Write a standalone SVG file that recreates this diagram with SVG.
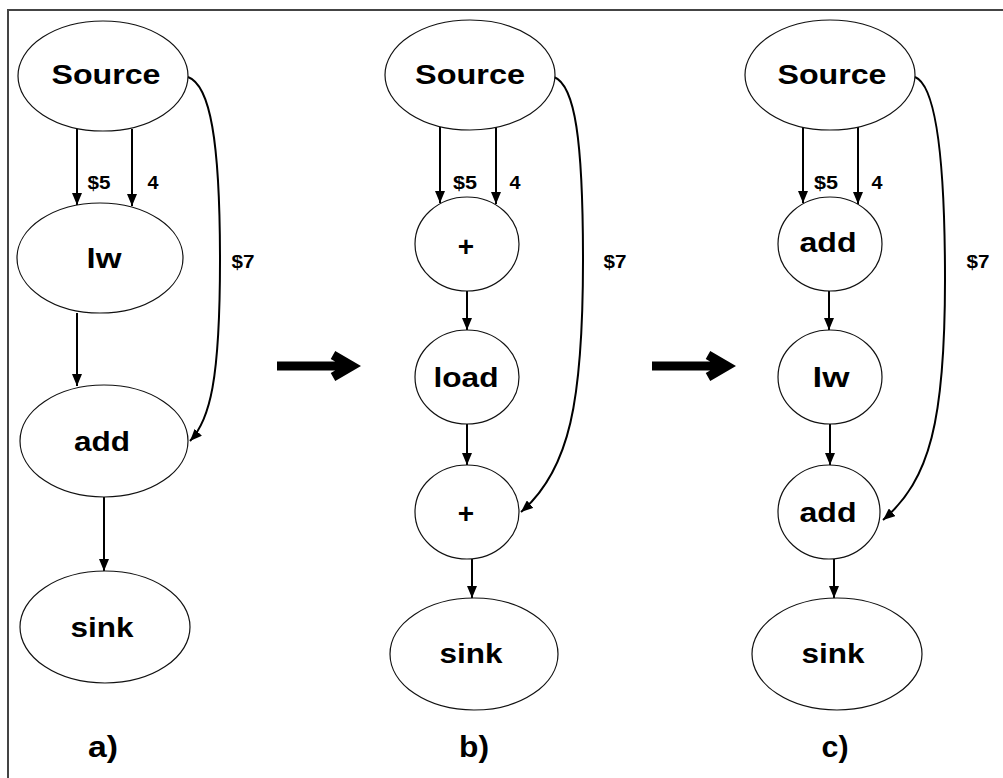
<svg xmlns="http://www.w3.org/2000/svg" width="1003" height="778" viewBox="0 0 1003 778">
<style>
.nd{fill:#fff;stroke:#111;stroke-width:1.2}
.lb{font-family:"Liberation Sans",Arial,sans-serif;font-weight:bold;font-size:28px;fill:#000;text-anchor:middle}
.sm{font-family:"Liberation Sans",Arial,sans-serif;font-weight:bold;font-size:19px;fill:#000;text-anchor:middle}
.cap{font-family:"Liberation Sans",Arial,sans-serif;font-weight:bold;font-size:30px;fill:#000;text-anchor:middle}
.e{fill:none;stroke:#000;stroke-width:2;marker-end:url(#ah)}
.big{fill:none;stroke:#000;stroke-width:9;stroke-linejoin:miter}
</style>
<defs>
<marker id="ah" viewBox="0 0 12 10" refX="12" refY="5" markerWidth="12" markerHeight="10" orient="auto" markerUnits="userSpaceOnUse">
<path d="M0,0 L12,5 L0,10 z" fill="#000"/>
</marker>
</defs>
<rect width="1003" height="778" fill="#fff"/>
<g id="frame" fill="none" stroke="#444" stroke-width="2">
<path d="M8,778 V10 H1003"/>
</g>

<g id="connectors">
<!-- panel a -->
<path class="e" d="M77,129 V205"/>
<path class="e" d="M132,129 V206"/>
<path class="e" d="M77,313 V386"/>
<path class="e" d="M104,497 V571"/>
<path class="e" d="M188,77 C210,85 220,140 220,260 C220,380 210,420 190,441"/>
<!-- panel b -->
<path class="e" d="M440,127 V203"/>
<path class="e" d="M496,127 V204"/>
<path class="e" d="M467,291 V330"/>
<path class="e" d="M467,424 V465"/>
<path class="e" d="M472,559 V598"/>
<path class="e" d="M554,77 C575,85 583,140 583,260 C583,400 570,470 521,512"/>
<!-- panel c -->
<path class="e" d="M803,127 V203"/>
<path class="e" d="M858,127 V204"/>
<path class="e" d="M829,291 V330"/>
<path class="e" d="M830,424 V465"/>
<path class="e" d="M834,559 V598"/>
<path class="e" d="M915,77 C935,85 945,150 945,280 C945,420 930,480 883,520"/>
<!-- big arrows -->
<path class="big" d="M277,366 H352 M333,355 L352,366 L333,377"/>
<path class="big" d="M652,366 H727 M708,355 L727,366 L708,377"/>
</g>

<g id="edge-labels">
<text class="sm" x="99" y="189" textLength="23" lengthAdjust="spacingAndGlyphs">$5</text>
<text class="sm" x="153" y="189" textLength="11" lengthAdjust="spacingAndGlyphs">4</text>
<text class="sm" x="243" y="268" textLength="23" lengthAdjust="spacingAndGlyphs">$7</text>
<text class="sm" x="465" y="189" textLength="24" lengthAdjust="spacingAndGlyphs">$5</text>
<text class="sm" x="515" y="189" textLength="11" lengthAdjust="spacingAndGlyphs">4</text>
<text class="sm" x="615" y="268" textLength="23" lengthAdjust="spacingAndGlyphs">$7</text>
<text class="sm" x="826" y="189" textLength="24" lengthAdjust="spacingAndGlyphs">$5</text>
<text class="sm" x="877" y="189" textLength="11" lengthAdjust="spacingAndGlyphs">4</text>
<text class="sm" x="978" y="268" textLength="23" lengthAdjust="spacingAndGlyphs">$7</text>
</g>

<!-- panel a nodes -->
<g id="a-source"><ellipse class="nd" cx="103" cy="76" rx="85" ry="55"/><text class="lb" x="106" y="84" textLength="109" lengthAdjust="spacingAndGlyphs">Source</text></g>
<g id="a-lw"><ellipse class="nd" cx="100" cy="258" rx="83" ry="55"/><text class="lb" x="104" y="268" textLength="35" lengthAdjust="spacingAndGlyphs">lw</text></g>
<g id="a-add"><ellipse class="nd" cx="104" cy="441" rx="84" ry="56"/><text class="lb" x="102" y="451" textLength="56" lengthAdjust="spacingAndGlyphs">add</text></g>
<g id="a-sink"><ellipse class="nd" cx="105" cy="627" rx="85" ry="56"/><text class="lb" x="102" y="637" textLength="63" lengthAdjust="spacingAndGlyphs">sink</text></g>

<!-- panel b nodes -->
<g id="b-source"><ellipse class="nd" cx="470" cy="75" rx="85" ry="55"/><text class="lb" x="470" y="84" textLength="110" lengthAdjust="spacingAndGlyphs">Source</text></g>
<g id="b-plus1"><ellipse class="nd" cx="467" cy="244" rx="52" ry="47"/><text class="lb" x="466" y="256">+</text></g>
<g id="b-load"><ellipse class="nd" cx="467" cy="377" rx="52" ry="47"/><text class="lb" x="466" y="387" textLength="65" lengthAdjust="spacingAndGlyphs">load</text></g>
<g id="b-plus2"><ellipse class="nd" cx="467" cy="512" rx="52" ry="47"/><text class="lb" x="466" y="523">+</text></g>
<g id="b-sink"><ellipse class="nd" cx="474" cy="654" rx="84" ry="56"/><text class="lb" x="471" y="663" textLength="63" lengthAdjust="spacingAndGlyphs">sink</text></g>

<!-- panel c nodes -->
<g id="c-source"><ellipse class="nd" cx="830" cy="75" rx="85" ry="55"/><text class="lb" x="832" y="84" textLength="109" lengthAdjust="spacingAndGlyphs">Source</text></g>
<g id="c-add1"><ellipse class="nd" cx="830" cy="244" rx="52" ry="47"/><text class="lb" x="828" y="252" textLength="57" lengthAdjust="spacingAndGlyphs">add</text></g>
<g id="c-lw"><ellipse class="nd" cx="830" cy="377" rx="52" ry="47"/><text class="lb" x="831" y="387" textLength="37" lengthAdjust="spacingAndGlyphs">lw</text></g>
<g id="c-add2"><ellipse class="nd" cx="829" cy="512" rx="51" ry="47"/><text class="lb" x="828" y="522" textLength="57" lengthAdjust="spacingAndGlyphs">add</text></g>
<g id="c-sink"><ellipse class="nd" cx="837" cy="654" rx="85" ry="56"/><text class="lb" x="833" y="663" textLength="63" lengthAdjust="spacingAndGlyphs">sink</text></g>

<g id="captions">
<text class="cap" x="103" y="757" textLength="30" lengthAdjust="spacingAndGlyphs">a)</text>
<text class="cap" x="474" y="757" textLength="30" lengthAdjust="spacingAndGlyphs">b)</text>
<text class="cap" x="835" y="757" textLength="27" lengthAdjust="spacingAndGlyphs">c)</text>
</g>
</svg>
